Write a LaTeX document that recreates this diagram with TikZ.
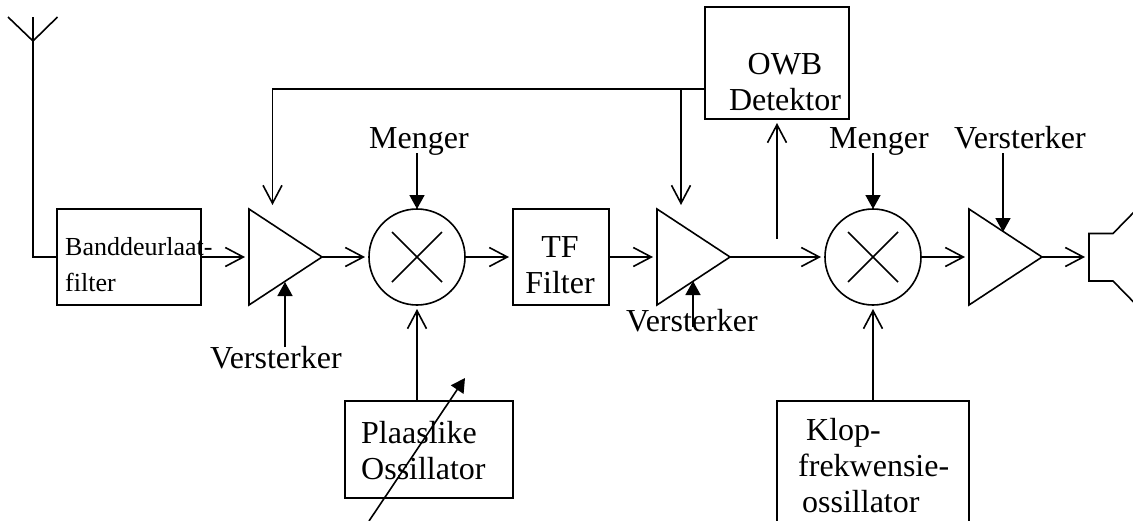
\documentclass[tikz,border=0pt]{standalone}
\usepackage{fontspec}
\setmainfont{Liberation Serif}
\usetikzlibrary{arrows.meta,shapes.geometric}
\tikzstyle{block} = [draw=black, line width=1.6pt, rectangle, inner sep=0pt, outer sep=0pt]
\tikzstyle{amp} = [draw=black, line width=1.6pt, isosceles triangle, isosceles triangle stretches, minimum width=96pt, minimum height=73pt, inner sep=0pt, outer sep=0pt, anchor=west]
\tikzstyle{mixer} = [draw=black, line width=1.6pt, circle, minimum size=96pt, inner sep=0pt, outer sep=0pt]
\tikzstyle{txt} = [font=\fontsize{32}{36.5}\selectfont, inner sep=0pt, anchor=base west]
\tikzstyle{sig} = [line width=1.6pt, -{Straight Barb[length=18pt,width=19pt,line width=1.6pt]}, shorten >=4pt]
\tikzstyle{ctrl} = [line width=1.6pt, -{Triangle[length=14pt,width=15pt]}]
\tikzstyle{wire} = [line width=1.6pt]
\begin{document}
\begin{tikzpicture}[x=1pt,y=-1pt]
\useasboundingbox (0,0) rectangle (1133,520);
\node [block, minimum width=144pt, minimum height=96pt, anchor=north west] (bpf) at (57,209) {};
\node [amp] (amp1) at (249,257) {};
\node [mixer] (mix1) at (417,257) {};
\node [block, minimum width=96pt, minimum height=96pt, anchor=north west] (tf) at (513,209) {};
\node [amp] (amp2) at (657,257) {};
\node [mixer] (mix2) at (873,257) {};
\node [amp] (amp3) at (969,257) {};
\node [block, minimum width=144pt, minimum height=112pt, anchor=north west] (owb) at (705,7) {};
\node [block, minimum width=168pt, minimum height=97pt, anchor=north west] (osc) at (345,401) {};
\node [block, minimum width=192pt, minimum height=140pt, anchor=north west] (bfo) at (777,401) {};
%
\node [txt, font=\fontsize{26}{36}\selectfont, align=left, anchor=north west] (bpftxt) at (65,237) {Banddeurlaat-\\filter};
\node [txt, align=center, anchor=north] (tftxt) at (560,236) {TF\\Filter};
\node [txt, align=center, anchor=north] (owbtxt) at (785,53) {OWB\\Detektor};
\node [txt, align=left, anchor=north west] (osctxt) at (361,421) {Plaaslike\\Ossillator};
\node [txt, font=\fontsize{32}{36}\selectfont, align=left, anchor=north west, text depth=0pt] (bfotxt) at (798,418) {\hspace*{8pt}Klop-\\frekwensie-\\\hspace*{4pt}ossillator};
\node [txt] (men1) at (369,148) {Menger};
\node [txt] (men2) at (829,148) {Menger};
\node [txt] (ver1) at (210,368) {Versterker};
\node [txt] (ver2) at (626,331) {Versterker};
\node [txt] (ver3) at (954,148) {Versterker};
%
\coordinate (ant) at (33,41);
\coordinate (antl) at (8,17);
\coordinate (antr) at (57.5,17);
\coordinate (antm) at (33,17);
\draw [wire] (antl) -- (ant) -- (antr);
\draw [wire] (antm) -- (ant) |- (bpf.west);
\draw [sig] (bpf.east) -- (amp1.west);
\draw [sig] (amp1.east) -- (mix1.west);
\draw [sig] (mix1.east) -- (tf.west);
\draw [sig] (tf.east) -- (amp2.west);
\draw [sig] (amp2.east) -- (mix2.west);
\draw [sig] (mix2.east) -- (amp3.west);
\coordinate (spkl) at (1089,257);
\draw [sig] (amp3.east) -- (spkl);
%
\foreach \m in {mix1,mix2} {
  \draw [wire] (\m.center) ++(-25,-25) -- ++(50,50);
  \draw [wire] (\m.center) ++(-25,25) -- ++(50,-50);
}
%
\coordinate (fb) at (705,89);
\coordinate (amp1in) at (272.5,209);
\coordinate (amp2in) at (681,209);
\draw [sig] (fb) -| (amp1in);
\draw [sig] (fb -| amp2in) -- (amp2in);
\coordinate (tap) at (777,239);
\coordinate (owbin) at (777,119);
\draw [sig] (tap) -- (owbin);
%
\draw [ctrl] (mix1.north |- 0,153) -- (mix1.north);
\draw [ctrl] (mix2.north |- 0,153) -- (mix2.north);
\coordinate (amp3c) at (1003,232);
\draw [ctrl] (amp3c |- 0,153) -- (amp3c);
\coordinate (amp1c) at (285,282);
\draw [ctrl] (amp1c |- 0,347) -- (amp1c);
\coordinate (amp2c) at (693,281);
\draw [ctrl] (amp2c |- 0,327) -- (amp2c);
\draw [sig] (osc.north -| mix1) -- (mix1.south);
\draw [sig] (bfo.north -| mix2) -- (mix2.south);
%
\coordinate (tunea) at (369,521);
\coordinate (tuneb) at (465,378);
\draw [ctrl] (tunea) -- (tuneb);
%
\draw [wire] (1136,210) -- (1113,233.5) -- (1089,233.5) -- (1089,281) -- (1113,281) -- (1136,304.5);
\end{tikzpicture}
\end{document}
